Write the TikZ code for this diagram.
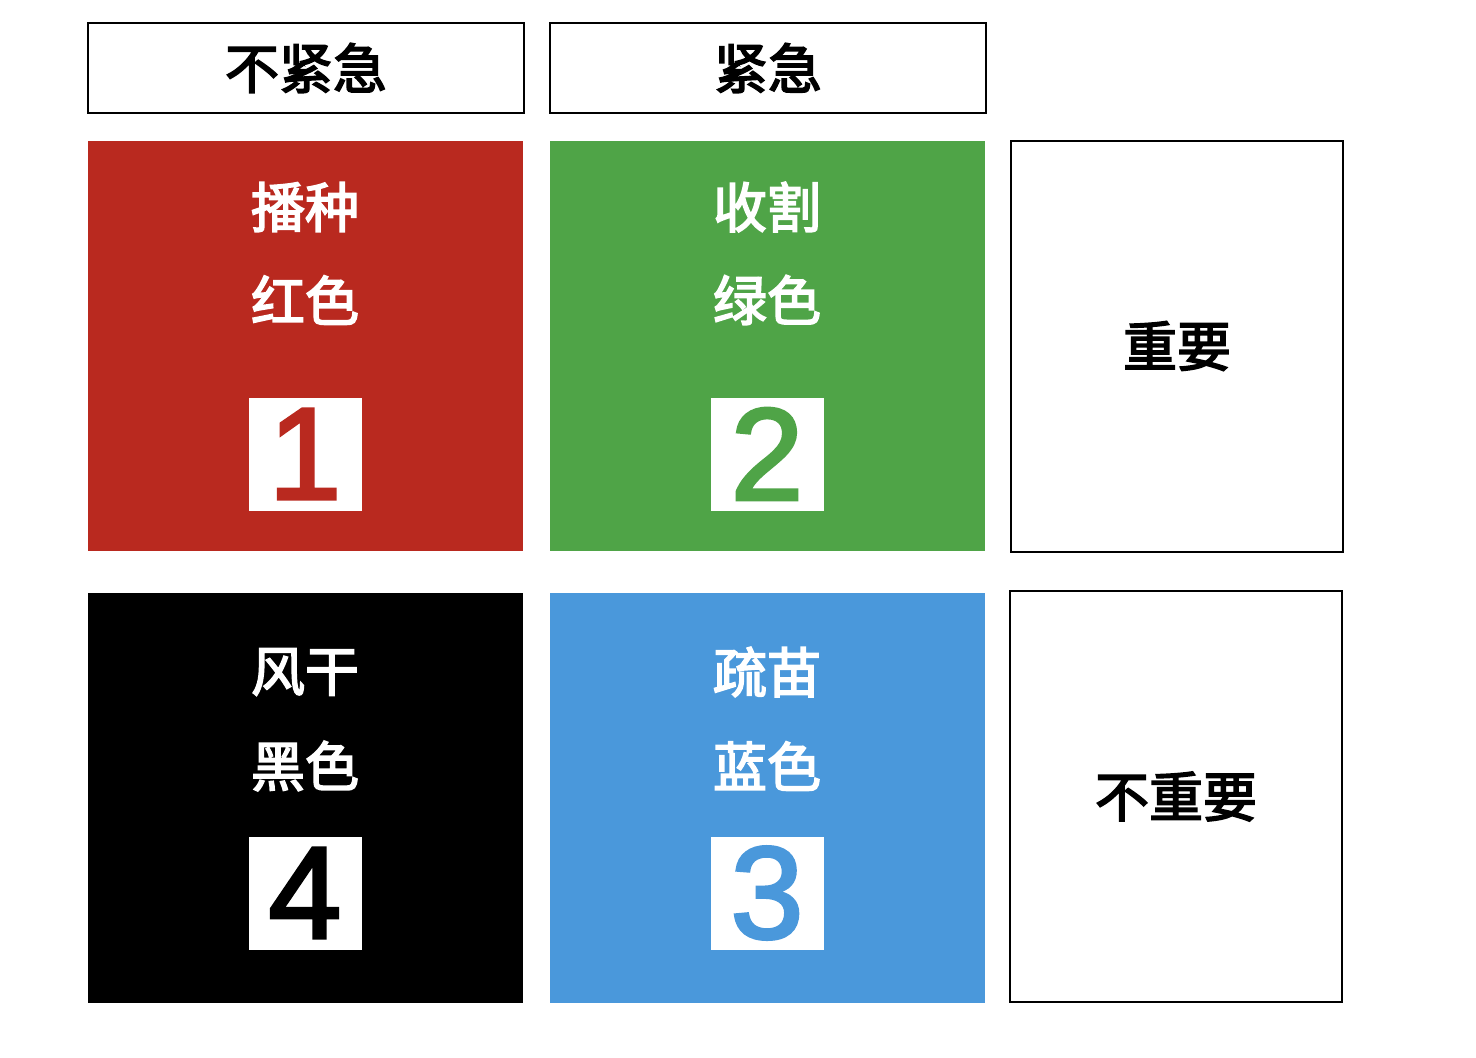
\documentclass[tikz,border=0pt]{standalone}
\usepackage{fontspec}
\setmainfont{Liberation Sans}
\newfontfamily\cjk{Noto Sans CJK SC}[FakeBold=3]
\newfontfamily\numfont{Liberation Sans}[FakeBold=2.5]
\definecolor{sowred}{HTML}{B9291F}
\definecolor{reapgreen}{HTML}{4FA447}
\definecolor{thinblue}{HTML}{4A98DB}
\tikzset{
  header/.style={draw=black, line width=2pt, minimum width=436pt, minimum height=90pt, inner sep=0pt, font=\cjk\fontsize{54}{54}\selectfont},
  quad/.style={minimum width=435pt, minimum height=410pt, inner sep=0pt},
  side/.style={draw=black, line width=2pt, minimum width=332pt, minimum height=411pt, inner sep=0pt, font=\cjk\fontsize{54}{54}\selectfont},
  caption/.style={text=white, inner sep=0pt, font=\cjk\fontsize{54}{54}\selectfont},
  numbox/.style={fill=white, minimum size=113pt, inner sep=0pt, font=\numfont\fontsize{131}{131}\selectfont},
}
\begin{document}
\begin{tikzpicture}[x=1pt, y=-1pt]
        \useasboundingbox[fill=white] (0,0) rectangle (1476,1058);
        % column headers
        \node[header] (notUrgent) at (306,68) {不紧急};
        \node[header] (urgent) at (768,68) {紧急};
        % quadrants
        \node[quad, fill=sowred] (sow) at (305.5,346) {};
        \node[quad, fill=reapgreen] (reap) at (767.5,346) {};
        \node[quad, fill=black] (dry) at (305.5,798) {};
        \node[quad, fill=thinblue] (thin) at (767.5,798) {};
        % row headers
        \node[side] (important) at (1177,346) {重要};
        \node[side] (notImportant) at (1176,796.5) {不重要};
        % texts and numbers
        \node[caption] (sowName) at (305,207) {播种};
        \node[caption] (sowColor) at (305,300) {红色};
        \node[numbox, text=sowred] (sowNum) at (305,454) {1};
        \node[caption] (reapName) at (767,207) {收割};
        \node[caption] (reapColor) at (767,300) {绿色};
        \node[numbox, text=reapgreen] (reapNum) at (767,454) {2};
        \node[caption] (dryName) at (305,672) {风干};
        \node[caption] (dryColor) at (305,766) {黑色};
        \node[numbox, text=black] (dryNum) at (305,893) {4};
        \node[caption] (thinName) at (767,672) {疏苗};
        \node[caption] (thinColor) at (767,766) {蓝色};
        \node[numbox, text=thinblue] (thinNum) at (767,893) {3};
    \end{tikzpicture}
\end{document}
